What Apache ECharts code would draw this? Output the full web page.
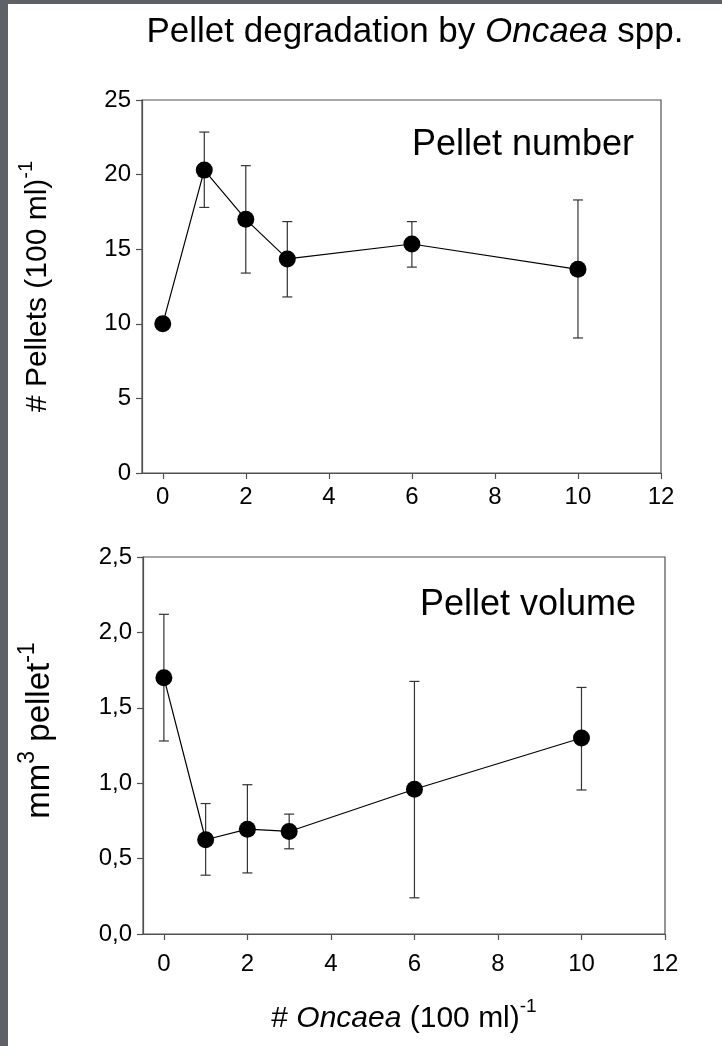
<!DOCTYPE html>
<html>
<head>
<meta charset="utf-8">
<script src="https://cdn.jsdelivr.net/npm/echarts@6/dist/echarts.min.js"></script>
<style>
  html, body { margin:0; padding:0; width:722px; height:1046px; background:#5e6267; overflow:hidden; }
  #chart { position:absolute; left:8px; top:4px; width:714px; height:1042px; background:#ffffff; }
</style>
</head>
<body>
<div id="chart"></div>
<script>
// ---- data ----
const oncaea = [0, 1, 2, 3, 6, 10];
const pelletNumber = [10.0, 20.3, 17.0, 14.35, 15.35, 13.65];
const pelletNumberHigh = [null, 22.85, 20.6, 16.85, 16.85, 18.3];
const pelletNumberLow  = [null, 17.8, 13.4, 11.8, 13.8, 9.05];
const pelletVolume = [1.70, 0.625, 0.695, 0.68, 0.96, 1.30];
const pelletVolumeHigh = [2.12, 0.865, 0.99, 0.795, 1.675, 1.635];
const pelletVolumeLow  = [1.28, 0.39, 0.405, 0.565, 0.24, 0.955];
const xTicks = [0, 2, 4, 6, 8, 10, 12];

const chart = echarts.init(document.getElementById('chart'), null, {renderer:'canvas'});
const FONT = 'Liberation Sans, Arial, sans-serif';
const axisColor = '#505050';

function pts(xs, ys) { return xs.map((x, i) => [x, ys[i]]); }
function errData(xs, lo, hi) {
  const out = [];
  xs.forEach((x, i) => { if (lo[i] != null && hi[i] != null) out.push([x, lo[i], hi[i]]); });
  return out;
}
function errRender(params, api) {
  const x = api.value(0);
  const lo = api.coord([x, api.value(1)]);
  const hi = api.coord([x, api.value(2)]);
  const cw = 5;
  const st = { stroke: '#333333', lineWidth: 1.2 };
  return { type: 'group', children: [
    { type: 'line', shape: { x1: lo[0], y1: lo[1], x2: hi[0], y2: hi[1] }, style: st },
    { type: 'line', shape: { x1: hi[0] - cw, y1: hi[1], x2: hi[0] + cw, y2: hi[1] }, style: st },
    { type: 'line', shape: { x1: lo[0] - cw, y1: lo[1], x2: lo[0] + cw, y2: lo[1] }, style: st }
  ]};
}
const commaFmt = v => v.toFixed(1).replace('.', ',');

function richSet(fs, sfs) {
  return {
    n: { fontSize: fs, lineHeight: fs + 14, fontFamily: FONT, color: '#000' },
    i: { fontSize: fs, lineHeight: fs + 14, fontFamily: FONT, fontStyle: 'italic', color: '#000' },
    s: { fontSize: sfs, lineHeight: sfs, fontFamily: FONT, color: '#000', verticalAlign: 'top' }
  };
}

function xAxisCfg(gi, withName, margin) {
  return {
    gridIndex: gi, type: 'value', min: -0.5, max: 12, interval: 2,
    axisLine: { show: true, onZero: false, lineStyle: { color: axisColor, width: 1.2 } },
    axisTick: { show: true, length: 6, lineStyle: { color: axisColor, width: 1.2 }, customValues: xTicks },
    axisLabel: { color: '#000', fontSize: 24, fontFamily: FONT, margin: margin, customValues: xTicks },
    splitLine: { show: false },
    name: withName ? '{n|# }{i|Oncaea}{n| (100 ml)}{s|-1}' : '',
    nameLocation: 'middle', nameGap: 63,
    nameTextStyle: { fontFamily: FONT, rich: richSet(30, 19) }
  };
}
function yAxisCfg(gi, max, interval, fmt, name, fs, sfs, gap, pad) {
  return {
    gridIndex: gi, type: 'value', min: 0, max: max, interval: interval,
    axisLine: { show: true, onZero: false, lineStyle: { color: axisColor, width: 1.2 } },
    axisTick: { show: true, length: 6, lineStyle: { color: axisColor, width: 1.2 } },
    axisLabel: { color: '#000', fontSize: 24, fontFamily: FONT, margin: 11, formatter: fmt },
    splitLine: { show: false },
    name: name, nameLocation: 'middle', nameRotate: 90, nameGap: gap,
    nameTextStyle: { fontFamily: FONT, padding: pad, rich: richSet(fs, sfs) }
  };
}

const option = {
  animation: false,
  backgroundColor: '#ffffff',
  title: [
    { text: 'Pellet degradation by {i|Oncaea} spp.', left: 402, top: 6, textAlign: 'center',
      textStyle: { fontSize: 35, fontWeight: 'normal', fontFamily: FONT, color: '#000',
        rich: { i: { fontSize: 35, fontStyle: 'italic', fontFamily: FONT, color: '#000' } } } },
    { text: 'Pellet number', right: 83, top: 118,
      textStyle: { fontSize: 36, fontWeight: 'normal', fontFamily: FONT, color: '#000' } },
    { text: 'Pellet volume', right: 81, top: 578,
      textStyle: { fontSize: 36, fontWeight: 'normal', fontFamily: FONT, color: '#000' } }
  ],
  grid: [
    { left: 133, top: 96, width: 520, height: 373, show: true, borderColor: axisColor, borderWidth: 1.2 },
    { left: 133, top: 553, width: 524, height: 377, show: true, borderColor: axisColor, borderWidth: 1.2 }
  ],
  xAxis: [ xAxisCfg(0, false, 12), xAxisCfg(1, true, 18) ],
  yAxis: [
    yAxisCfg(0, 25, 5, v => String(v), '{n|# Pellets (100 ml)}{s|-1}', 30, 20, 82, [0, 0, 0, 0]),
    yAxisCfg(1, 2.5, 0.5, commaFmt, '{n|mm}{s|3}{n| pellet}{s|-1}', 33, 23, 80, [0, 0, 0, 30])
  ],
  series: [
    { type: 'custom', xAxisIndex: 0, yAxisIndex: 0, renderItem: errRender,
      data: errData(oncaea, pelletNumberLow, pelletNumberHigh), z: 1 },
    { type: 'line', xAxisIndex: 0, yAxisIndex: 0, data: pts(oncaea, pelletNumber),
      symbol: 'circle', symbolSize: 17, itemStyle: { color: '#000' },
      lineStyle: { color: '#000', width: 1.2 }, z: 3 },
    { type: 'custom', xAxisIndex: 1, yAxisIndex: 1, renderItem: errRender,
      data: errData(oncaea, pelletVolumeLow, pelletVolumeHigh), z: 1 },
    { type: 'line', xAxisIndex: 1, yAxisIndex: 1, data: pts(oncaea, pelletVolume),
      symbol: 'circle', symbolSize: 17, itemStyle: { color: '#000' },
      lineStyle: { color: '#000', width: 1.2 }, z: 3 }
  ]
};
chart.setOption(option);
</script>
</body>
</html>
